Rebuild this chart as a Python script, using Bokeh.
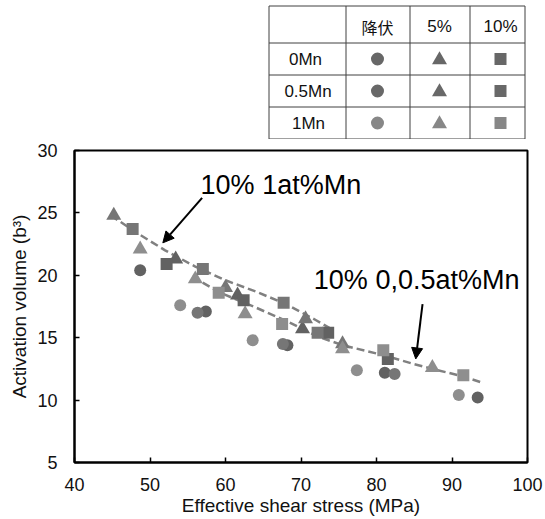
from bokeh.plotting import figure
from bokeh.models import Range1d, Arrow, NormalHead, FixedTicker
from bokeh.layouts import column
from bokeh.core.properties import value
from bokeh.embed import file_html
from bokeh.resources import INLINE

# ---------------- data ----------------
series = ["0Mn", "0.5Mn", "1Mn"]
colors = {"0Mn": "#626262", "0.5Mn": "#767676", "1Mn": "#8e8e8e"}
legend_colors = {"0Mn": "#676767", "0.5Mn": "#686868", "1Mn": "#878787"}
col_headers = ["降伏", "5%", "10%"]

# yield (circles)
yield_x = {"0Mn": [48.7, 57.4, 68.2, 81.1, 93.4],
           "0.5Mn": [56.3, 67.6, 82.4],
           "1Mn": [54.0, 63.6, 77.4, 90.9]}
yield_y = {"0Mn": [20.4, 17.1, 14.4, 12.2, 10.2],
           "0.5Mn": [17.0, 14.5, 12.1],
           "1Mn": [17.6, 14.8, 12.4, 10.4]}
# 5% (triangles)
s5_x = {"0Mn": [53.4, 61.6, 70.2],
        "0.5Mn": [45.2, 60.0, 70.6, 75.5],
        "1Mn": [48.7, 56.0, 62.6, 75.5, 87.4]}
s5_y = {"0Mn": [21.3, 18.4, 15.7],
        "0.5Mn": [24.8, 19.0, 16.5, 14.5],
        "1Mn": [22.1, 19.7, 16.9, 14.1, 12.6]}
# 10% (squares)
s10_x = {"0Mn": [52.2, 62.4, 73.6, 81.5],
         "0.5Mn": [47.7, 57.0, 67.7, 72.2],
         "1Mn": [59.1, 67.5, 80.9, 91.5]}
s10_y = {"0Mn": [20.9, 18.0, 15.4, 13.3],
         "0.5Mn": [23.7, 20.5, 17.8, 15.4],
         "1Mn": [18.6, 16.1, 14.0, 12.0]}

# dashed trend curves
trend_1mn_x = [44.8, 48.0, 52.0, 56.0, 60.0, 64.0, 68.0, 72.0, 74.0]
trend_1mn_y = [24.8, 23.5, 22.0, 20.7, 19.6, 18.7, 17.7, 16.4, 15.7]
trend_0mn_x = [55.6, 59.3, 63.7, 68.2, 72.2, 75.5, 80.9, 84.9, 87.4, 91.5, 94.0]
trend_0mn_y = [19.9, 18.6, 17.5, 16.3, 15.1, 14.4, 13.6, 12.9, 12.5, 11.9, 11.4]

# annotations
ann_text = ["10% 1at%Mn", "10% 0,0.5at%Mn"]
ann_x = [56.7, 71.7]
ann_y = [27.2, 19.6]
arrow_start_x = [56.9, 86.1]
arrow_start_y = [26.2, 17.7]
arrow_end_x = [51.7, 85.2]
arrow_end_y = [22.6, 13.3]

x_ticks = [40, 50, 60, 70, 80, 90, 100]
y_ticks = [5, 10, 15, 20, 25, 30]

FONT = "Liberation Sans"
BL, BR = 74, 18          # frame borders shared by both figures
W = 545

# ---------------- legend table figure (pixel coordinates) ----------------
TH = 139
t = figure(width=W, height=TH, x_range=Range1d(BL, W - BR), y_range=Range1d(TH, 0),
           x_axis_type=None, y_axis_type=None, toolbar_location=None,
           output_backend="svg", min_border_left=BL, min_border_right=BR,
           min_border_top=0, min_border_bottom=0, outline_line_color=None)
t.grid.visible = False

vx = [268.5, 345.5, 409.5, 469.5, 524.5]
hy = [5.5, 42.5, 74.5, 106.5, 138.5]
t.segment(x0=vx, y0=[hy[0]] * len(vx), x1=vx, y1=[hy[-1]] * len(vx),
          line_color="#404040", line_width=1)
t.segment(x0=[vx[0]] * len(hy), y0=hy, x1=[vx[-1]] * len(hy), y1=hy,
          line_color="#404040", line_width=1)

col_cx = [377, 439, 500]
row_cy = [58.5, 90.5, 122.5]
row_base = [58.5, 90.5, 122.5]
t.text(x=col_cx[1:], y=[26, 26], text=col_headers[1:], text_font=value(FONT),
       text_font_size="17px", text_align="center", text_baseline="alphabetic", text_color="#111111")
t.text(x=[col_cx[0]], y=[26], text=[col_headers[0]], text_font=value("Noto Sans CJK JP"),
       text_font_size="16px", text_align="center", text_baseline="alphabetic", text_color="#111111")
t.text(x=[305, 307.5, 308], y=row_base, text=series, text_font=value(FONT),
       text_font_size="17px", text_align="center", text_baseline="alphabetic", text_color="#111111")
lc = [legend_colors[s] for s in series]
t.scatter(x=[col_cx[0]] * 3, y=row_cy, marker="circle", size=13, fill_color=lc, line_color=None)
t.scatter(x=[col_cx[1]] * 3, y=[r + 1 for r in row_cy], marker="triangle", size=15, fill_color=lc, line_color=None)
t.scatter(x=[col_cx[2]] * 3, y=row_cy, marker="square", size=12, fill_color=lc, line_color=None)

# ---------------- main chart ----------------
p = figure(width=W, height=519 - TH, x_range=Range1d(40, 100), y_range=Range1d(5, 30),
           toolbar_location=None, output_backend="svg",
           min_border_left=BL, min_border_right=BR, min_border_top=11, min_border_bottom=57)
p.grid.visible = False
p.outline_line_color = "black"
p.outline_line_width = 2

for ax in (p.xaxis[0], p.yaxis[0]):
    ax.axis_line_width = 2
    ax.axis_line_color = "black"
    ax.major_tick_in = 5
    ax.major_tick_out = 0
    ax.minor_tick_in = 0
    ax.minor_tick_out = 0
    ax.major_tick_line_width = 1.5
    ax.major_tick_line_color = "black"
    ax.major_label_text_font = FONT
    ax.major_label_text_font_size = "18px"
    ax.major_label_text_color = "#111111"
    ax.axis_label_text_font = FONT
    ax.axis_label_text_font_size = "19px"
    ax.axis_label_text_font_style = "normal"
    ax.axis_label_text_color = "#111111"

p.xaxis.ticker = FixedTicker(ticks=x_ticks)
p.yaxis.ticker = FixedTicker(ticks=y_ticks)
p.xaxis.axis_label = "Effective shear stress (MPa)"
p.yaxis.axis_label = "Activation volume (b³)"
p.xaxis.major_label_standoff = 15
p.xaxis.axis_label_standoff = 1
p.yaxis.major_label_standoff = 17
p.yaxis.axis_label_standoff = 4

# trend lines
p.line(trend_1mn_x, trend_1mn_y, line_color="#808080", line_width=2.5, line_dash="8 4")
p.line(trend_0mn_x, trend_0mn_y, line_color="#808080", line_width=2.5, line_dash="8 4")

for s in series:
    p.scatter(yield_x[s], yield_y[s], marker="circle", size=12, fill_color=colors[s], line_color=None)
for s in series:
    p.scatter(s5_x[s], s5_y[s], marker="triangle", size=15, fill_color=colors[s], line_color=None)
for s in series:
    p.scatter(s10_x[s], s10_y[s], marker="square", size=12, fill_color=colors[s], line_color=None)

p.text(x=ann_x, y=ann_y, text=ann_text, text_font=value(FONT), text_font_size="27px",
       text_align="left", text_baseline="alphabetic", text_color="black")

for i in range(len(arrow_start_x)):
    p.add_layout(Arrow(end=NormalHead(size=11, fill_color="black", line_color="black"),
                       x_start=arrow_start_x[i], y_start=arrow_start_y[i],
                       x_end=arrow_end_x[i], y_end=arrow_end_y[i],
                       line_color="black", line_width=2))

layout = column(t, p)
open("out.html", "w").write(file_html(layout, INLINE))
